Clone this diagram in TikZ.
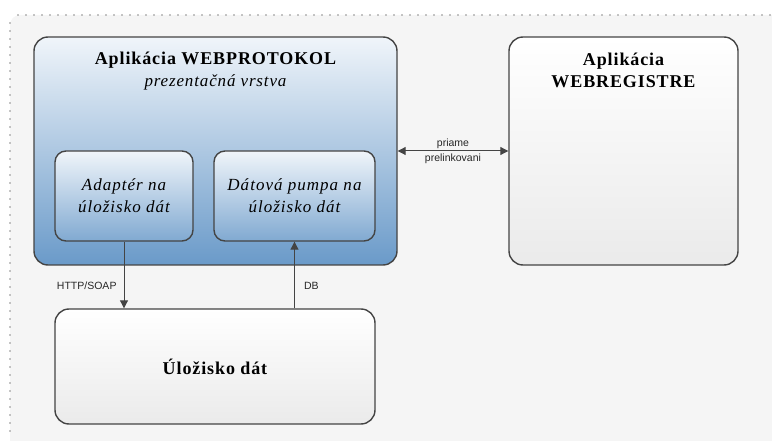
\documentclass[tikz,border=0pt]{standalone}
\usepackage{fontspec}
\setmainfont{Liberation Serif}
\setsansfont{Liberation Sans}
\usetikzlibrary{arrows.meta}
\definecolor{edgegray}{RGB}{68,68,68}
\definecolor{bluetop}{RGB}{240,245,250}
\definecolor{bluebot}{RGB}{106,154,201}
\definecolor{framegray}{RGB}{245,245,245}

\begin{document}
\begin{tikzpicture}[x=1pt, y=-1pt,
    appbox/.style ={draw=edgegray, line width=1.4pt, rounded corners=14pt, inner sep=0pt},
    bluebox/.style ={appbox, top color=bluetop, bottom color=bluebot},
    whitebox/.style ={appbox, top color=white, bottom color=framegray!90!black!60!white},
    partbox/.style ={appbox, rounded corners=11pt, top color=bluetop, bottom color=bluebot!85!white,
        align=center, font=\fontsize{17}{22}\selectfont\itshape\addfontfeature{LetterSpace=6}},
    boxtitle/.style ={align=center, font=\fontsize{18}{22}\selectfont\bfseries\addfontfeature{LetterSpace=5}},
    linklabel/.style ={font=\sffamily\fontsize{10.5}{12}\selectfont, text=black!85, inner sep=2pt},
    link/.style ={draw=edgegray, line width=1pt, -{Triangle[length=8pt,width=8pt]}}]
   \useasboundingbox (0,0) rectangle (772,441);
   % background frame
   \fill[framegray, rounded corners=10pt] (10,15) rectangle (790,460);
   \draw[gray!90, line width=1.6pt, line cap=round, dash pattern=on 0pt off 8pt] (18,15) -- (772,15);
   \draw[gray!90, line width=1.6pt, line cap=round, dash pattern=on 0pt off 8pt] (10,23) -- (10,437);
   % boxes
   \node[bluebox, minimum width=363pt, minimum height=228pt] (webprot) at (215.5,151) {};
   \node[boxtitle] (webprottitle) at (215.5,71) {Aplikácia WEBPROTOKOL\\
       {\mdseries\itshape\fontsize{17}{22}\selectfont prezentačná vrstva}};
   \node[partbox, minimum width=138pt, minimum height=90pt] (adapter) at (124,196) {Adaptér na\\úložisko dát};
   \node[partbox, minimum width=161pt, minimum height=90pt] (pumpa) at (294.5,196) {Dátová pumpa na\\úložisko dát};
   \node[whitebox, minimum width=229pt, minimum height=228pt] (webreg) at (623.5,151) {};
   \node[boxtitle] (webregtitle) at (623.5,70) {Aplikácia\\WEBREGISTRE};
   \node[whitebox, minimum width=320pt, minimum height=115pt, boxtitle] (store) at (215,366.5) {Úložisko dát};
   % connectors
   \draw[link] (adapter.south) -- node[linklabel, pos=0.66, left=5pt] {HTTP/SOAP} (adapter.south |- store.north);
   \draw[link] (store.north -| pumpa.south) -- node[linklabel, pos=0.34, right=7pt] {DB} (pumpa.south);
   \draw[link, {Triangle[length=8pt,width=8pt]}-{Triangle[length=8pt,width=8pt]}] (webprot.east) --
       node[linklabel, above] {priame} node[linklabel, below] {prelinkovani} (webreg.west);
 \end{tikzpicture}
\end{document}
